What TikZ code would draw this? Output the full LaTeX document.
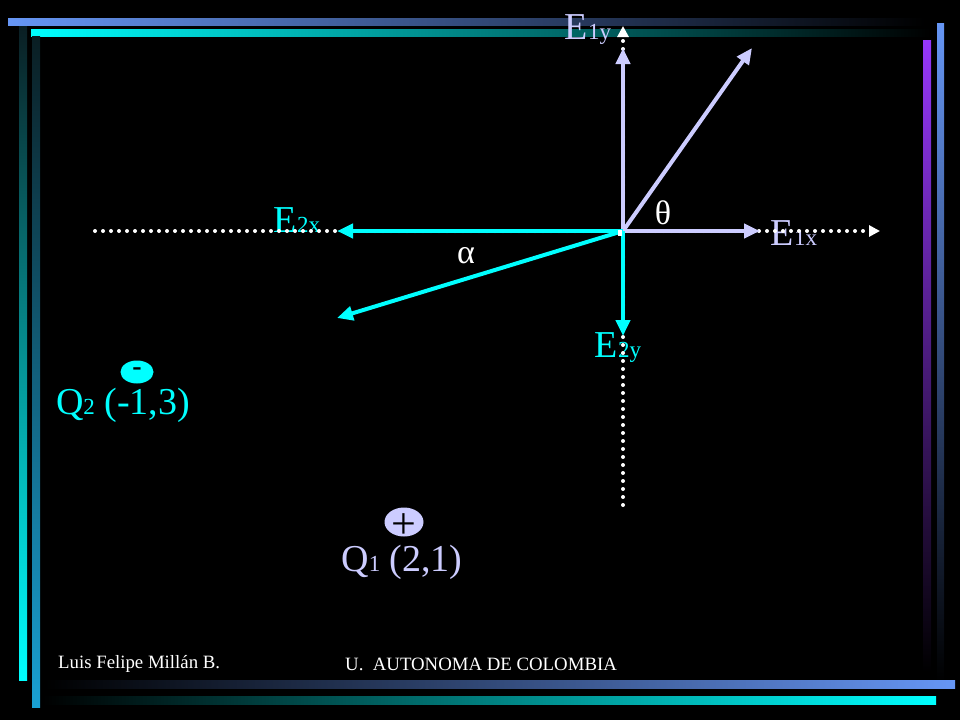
\documentclass[tikz,border=0pt]{standalone}
\usepackage{fontspec}
\setmainfont{Liberation Serif}
\usetikzlibrary{positioning,shapes.geometric,arrows.meta}

\definecolor{lav}{RGB}{204,204,255}
\definecolor{cyn}{RGB}{0,255,255}
\definecolor{barblue}{RGB}{102,150,245}
\definecolor{barpurple}{RGB}{150,55,250}
\definecolor{bardeep}{RGB}{25,160,210}
\definecolor{bardark}{RGB}{10,30,35}

\tikzset{
  vec/.style={line width=4pt, -{Triangle[length=16pt,width=14pt]}},
  axisdots/.style={white, line width=4pt, line cap=round,
    dash pattern=on 0pt off 8pt, -{Triangle[length=11pt,width=11pt]}},
  lbl/.style={font=\fontsize{38}{40}\selectfont, inner sep=0pt},
  greek/.style={font=\fontsize{34}{36}\selectfont, inner sep=0pt, white},
  charge/.style={ellipse, inner sep=0pt, text=black},
  foot/.style={font=\fontsize{18.8}{20}\selectfont, white, inner sep=0pt, anchor=west},
}
\newcommand{\sub}[1]{{\fontsize{23}{24}\selectfont #1}}

\begin{document}
\begin{tikzpicture}[x=1pt,y=1pt]
\fill[black] (0,0) rectangle (960,-720);
\useasboundingbox (0,0) rectangle (960,-720);

% frame bars
\shade[left color=barblue, right color=black] (8,-18) rectangle (925,-25);
\shade[left color=cyn, right color=black] (31,-29) rectangle (930,-36);
\shade[top color=bardark, bottom color=cyn] (19,-26) rectangle (27,-680);
\shade[top color=bardark, bottom color=bardeep] (32,-36) rectangle (40,-707);
\shade[top color=barpurple, bottom color=black] (923,-40) rectangle (931,-672);
\shade[top color=barblue, bottom color=black] (937,-23) rectangle (944,-682);
\shade[left color=black, right color=barblue] (45,-680) rectangle (955,-688);
\shade[left color=black, right color=cyn] (43,-696) rectangle (936,-704);

\def\ox{623}
\def\oy{-231}

\coordinate (O) at (\ox, \oy);
\coordinate (xl) at (95, \oy);
\coordinate (xr) at (880, \oy);
\coordinate (yt) at (\ox, -26);
\coordinate (yb) at (\ox, -505);

\coordinate (e1) at (752, -48);
\coordinate (e1x) at (760, \oy);
\coordinate (e1y) at (\ox, -48);
\coordinate (e2) at (337, -318);
\coordinate (e2x) at (337, \oy);
\coordinate (e2y) at (\ox, -336);

% labels
\node[lbl, lav] (E1y) at (588, -30) {E\sub{1y}};
\node[lbl, lav] (E1x) at (794, -233) {E\sub{1x}};
\node[lbl, cyn] (E2x) at (297, -220) {E\sub{2x}};
\node[lbl, cyn] (E2y) at (618, -348) {E\sub{2y}};
\node[greek] (theta) at (663, -213) {θ};
\node[greek] (alpha) at (466, -256) {α};

% axes
\draw[axisdots] (xl) -- (xr);
\draw[axisdots] (yb) -- (yt);

% field components
\draw[vec, lav] (O) -- (e1);
\draw[vec, lav] (O) -- (e1x);
\draw[vec, lav] (O) -- (e1y);
\draw[vec, cyn] (O) -- (e2);
\draw[vec, cyn] (O) -- (e2x);
\draw[vec, cyn] (O) -- (e2y);
\fill[white] (618,-230) rectangle (622,-236);

% charges
\node[charge, fill=cyn, minimum width=33pt, minimum height=23pt,
  font=\fontsize{28}{28}\selectfont\bfseries] (q2) at (137, -372)
  {\raisebox{-4pt}{-}};
\node[lbl, cyn] (Q2) at (123, -405) {Q\sub{2} (-1,3)};
\node[charge, fill=lav, minimum width=39pt, minimum height=29pt,
  font=\fontsize{44}{44}\selectfont] (q1) at (404, -522)
  {\raisebox{-0.38em}[0pt][0pt]{+}};
\node[lbl, lav] (Q1) at (402, -562) {Q\sub{1} (2,1)};

\node[foot] (author) at (58, -664) {Luis Felipe Millán B.};
\node[foot] (univ) at (345, -664) {U.~~AUTONOMA DE COLOMBIA};
\end{tikzpicture}
\end{document}
